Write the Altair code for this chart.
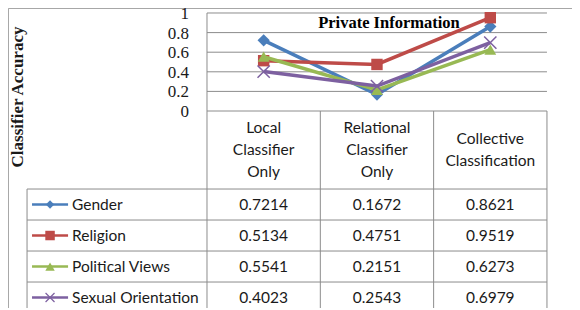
import altair as alt
import pandas as pd

# ---------------- data ----------------
categories = ["Local Classifier Only", "Relational Classifier Only", "Collective Classification"]
header_lines = [["Local", "Classifier", "Only"], ["Relational", "Classifier", "Only"],
                ["Collective", "Classification"]]
series = ["Gender", "Religion", "Political Views", "Sexual Orientation"]
gender = [0.7214, 0.1672, 0.8621]
religion = [0.5134, 0.4751, 0.9519]
political = [0.5541, 0.2151, 0.6273]
sexual = [0.4023, 0.2543, 0.6979]
y_ticks = [0, 0.2, 0.4, 0.6, 0.8, 1]
y_tick_labels = ["0", "0.2", "0.4", "0.6", "0.8", "1"]
chart_title = "Private Information"
y_title = "Classifier Accuracy"

colors = ["#4A7EBB", "#BE4B48", "#98B954", "#7D60A0"]
XPATH = "M-1,-1L1,1M-1,1L1,-1"
shapes = ["diamond", "square", "triangle-up", XPATH]
plot_sizes = [150, 130, 140, 150]
leg_sizes = [70, 90, 90, 80]

values = [gender, religion, political, sexual]

# ---------------- layout (in data units) ----------------
X_MIN, X_MAX = -1.756, 3.221
Y_MIN, Y_MAX = -2.010, 1.051
HEADER_BOTTOM = -0.796
ROW_H = 0.3163
HEADER_LH = 0.2245
LEG_LEFT = -1.588
SYM_X1, SYM_X2, SYM_XM = -1.544, -1.226, -1.385
LEG_TEXT_X = -1.191
TICK_X = -0.159
YTITLE_X, YTITLE_Y = -1.668, 0.143
NCAT = len(categories)

xs = alt.Scale(domain=[X_MIN, X_MAX], nice=False, zero=False)
ys = alt.Scale(domain=[Y_MIN, Y_MAX], nice=False, zero=False)

GRID = "#8c8c8c"
TXT = "#1a1a1a"
SANS = "Lato"
SERIF = "Liberation Serif"


def X(f):
    return alt.X(f, scale=xs, axis=None)


def Y(f):
    return alt.Y(f, scale=ys, axis=None)


rows = []
for si, s in enumerate(series):
    for ci, c in enumerate(categories):
        rows.append({"series": s, "si": si, "ci": ci, "xc": ci + 0.5, "v": values[si][ci],
                     "label": f"{values[si][ci]:.4f}",
                     "rowy": HEADER_BOTTOM - ROW_H * (si + 0.5)})
df = pd.DataFrame(rows)

# gridlines
grid_df = pd.DataFrame({"g": y_ticks, "x0": 0, "x1": NCAT})
grid = alt.Chart(grid_df).mark_rule(color=GRID, strokeWidth=1).encode(
    x=X("x0:Q"), x2="x1:Q", y=Y("g:Q"))

# y tick labels
tick_df = pd.DataFrame({"g": y_ticks, "t": y_tick_labels, "x": TICK_X})
ticks = alt.Chart(tick_df).mark_text(font=SERIF, fontSize=17, color=TXT, align="right",
                                      baseline="middle", dy=1).encode(
    x=X("x:Q"), y=Y("g:Q"), text="t:N")

ytitle = alt.Chart(pd.DataFrame({"x": [YTITLE_X], "y": [YTITLE_Y], "t": [y_title]})).mark_text(
    font=SERIF, fontSize=17, fontWeight="bold", color=TXT, angle=270, align="center",
    baseline="middle").encode(x=X("x:Q"), y=Y("y:Q"), text="t:N")

# vertical lines: plot left border & table column lines
vdf = pd.DataFrame({"x": [0, 1, 2, 3], "ytop": [1, 0, 0, 0], "ybot": [Y_MIN] * 4})
vlines = alt.Chart(vdf).mark_rule(color=GRID, strokeWidth=1).encode(
    x=X("x:Q"), y=Y("ytop:Q"), y2="ybot:Q")

leg_vline = alt.Chart(pd.DataFrame({"x": [LEG_LEFT], "a": [HEADER_BOTTOM], "b": [Y_MIN]})).mark_rule(
    color=GRID, strokeWidth=1).encode(x=X("x:Q"), y=Y("a:Q"), y2="b:Q")

hdf = pd.DataFrame({"y": [HEADER_BOTTOM - ROW_H * k for k in range(len(series))],
                    "xa": LEG_LEFT, "xb": NCAT})
hlines = alt.Chart(hdf).mark_rule(color=GRID, strokeWidth=1).encode(
    x=X("xa:Q"), x2="xb:Q", y=Y("y:Q"))

# outer border (top and left)
bdf = pd.DataFrame({"xa": [X_MIN + 0.004, X_MIN + 0.004], "xb": [X_MAX, X_MIN + 0.004],
                    "ya": [Y_MAX - 0.005, Y_MAX - 0.005], "yb": [Y_MAX - 0.005, Y_MIN]})
border = alt.Chart(bdf).mark_rule(color="#a6a6a6", strokeWidth=1).encode(
    x=X("xa:Q"), x2="xb:Q", y=Y("ya:Q"), y2="yb:Q")

# header text
hrows = []
for ci, lines in enumerate(header_lines):
    n = len(lines)
    for li, t in enumerate(lines):
        hrows.append({"x": ci + 0.5, "t": t,
                      "y": HEADER_BOTTOM / 2 + HEADER_LH * ((n - 1) / 2 - li)})
header = alt.Chart(pd.DataFrame(hrows)).mark_text(font=SANS, fontSize=15.5, color=TXT,
                                                  baseline="middle", align="center").encode(
    x=X("x:Q"), y=Y("y:Q"), text="t:N")

cells = alt.Chart(df).mark_text(font=SANS, fontSize=15.5, color=TXT, baseline="middle",
                                align="center").encode(
    x=X("xc:Q"), y=Y("rowy:Q"), text="label:N")

title = alt.Chart(pd.DataFrame({"x": [1.606], "y": [0.903], "t": [chart_title]})).mark_text(
    font=SERIF, fontSize=16.5, fontWeight="bold", color="black", baseline="middle").encode(
    x=X("x:Q"), y=Y("y:Q"), text="t:N")

layers = [grid, vlines, leg_vline, hlines, border, header, cells, ticks, ytitle]

for si, s in enumerate(series):
    d = df[df.series == s]
    col = colors[si]
    line = alt.Chart(d).mark_line(color=col, strokeWidth=3.5).encode(
        x=X("xc:Q"), y=Y("v:Q"), order="ci:Q")
    if shapes[si] == XPATH:
        pt = alt.Chart(d).mark_point(shape=XPATH, filled=False, color=col, size=plot_sizes[si],
                                     strokeWidth=1.5, opacity=1)
    else:
        pt = alt.Chart(d).mark_point(shape=shapes[si], filled=True, color=col, size=plot_sizes[si],
                                     opacity=1)
    pt = pt.encode(x=X("xc:Q"), y=Y("v:Q"))
    layers += [line, pt]

    ld = pd.DataFrame({"x1": [SYM_X1], "x2": [SYM_X2], "xm": [SYM_XM], "xt": [LEG_TEXT_X],
                       "y": [HEADER_BOTTOM - ROW_H * (si + 0.5)], "t": [s]})
    lrule = alt.Chart(ld).mark_rule(color=col, strokeWidth=2.5).encode(
        x=X("x1:Q"), x2="x2:Q", y=Y("y:Q"))
    if shapes[si] == XPATH:
        lpt = alt.Chart(ld).mark_point(shape=XPATH, filled=False, color=col, size=leg_sizes[si],
                                       strokeWidth=1.2, opacity=1)
    else:
        lpt = alt.Chart(ld).mark_point(shape=shapes[si], filled=True, color=col,
                                       size=leg_sizes[si], opacity=1)
    lpt = lpt.encode(x=X("xm:Q"), y=Y("y:Q"))
    ltxt = alt.Chart(ld).mark_text(font=SANS, fontSize=15.5, color=TXT, align="left",
                                   baseline="middle").encode(
        x=X("xt:Q"), y=Y("y:Q"), text="t:N")
    layers += [lrule, lpt, ltxt]

layers.append(title)

chart = alt.layer(*layers).properties(
    width=564, height=300, padding=0,
    autosize=alt.AutoSizeParams(type="none"),
).configure_view(stroke=None).configure(background="white")

chart.save("out.html", embed_options={"renderer": "svg", "actions": False})
